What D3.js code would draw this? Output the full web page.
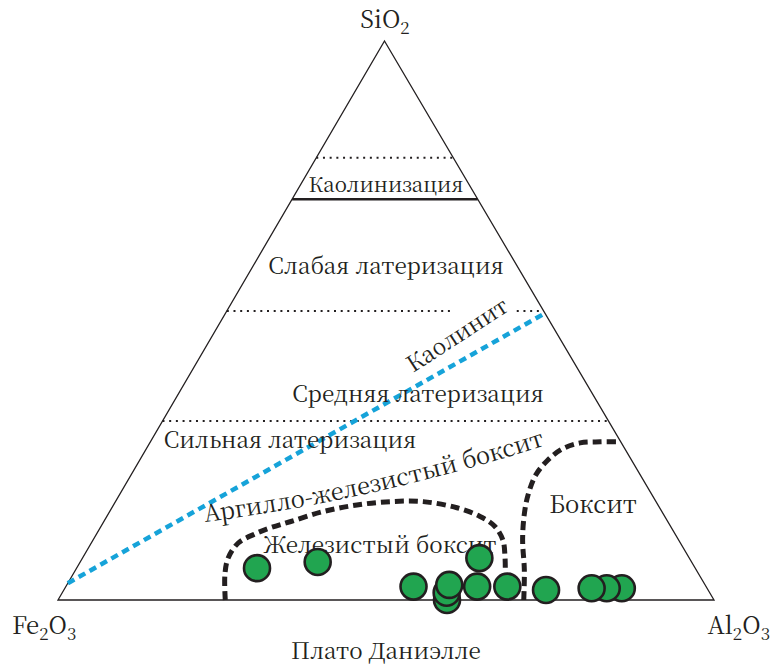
<!DOCTYPE html>
<html>
<head>
<meta charset="utf-8">
<script src="https://cdn.jsdelivr.net/npm/d3@7"></script>
<style>
  body { margin: 0; background: #fff; }
  svg { display: block; }
</style>
</head>
<body>
<svg id="chart" width="773" height="667"></svg>
<script>
// Sample compositions, % of SiO2 + Al2O3 + Fe2O3 (listed in drawing order)
const sampleSiO2  = [5.7, 6.8, 2.4, 0.0, 1.3, 2.7, 2.4, 7.5, 2.4, 1.8, 2.1, 2.1, 2.1];
const sampleAl2O3 = [27.5, 36.2, 53.0, 59.3, 58.6, 58.3, 62.7, 60.5, 67.3, 73.5, 84.9, 82.6, 80.3];
const sampleFe2O3 = sampleSiO2.map((s, i) => +(100 - s - sampleAl2O3[i]).toFixed(1));

// Laterisation grade boundaries, % SiO2
const levelSiO2   = [79.1, 71.7, 51.7, 32.0];
const levelSolid  = [false, true, false, false];

// Gap in the 51.7 % line left for the kaolinite label, % Al2O3
const levelGapAl2O3 = [34.5, 44.2];

// Kaolinite line, from Fe2O3 side to SiO2–Al2O3 side
const kaoliniteSiO2  = [3.0, 51.3];
const kaoliniteAl2O3 = [0.0, 48.7];

// Field of ferruginous bauxite (outline, % SiO2 and % Al2O3)
const ferrBauxiteSiO2  = [0, 4.5, 7.5, 10.2, 11.8, 12.9, 14.0, 15.8, 17.0, 17.6, 17.6, 16.5, 15.0, 13.2, 10.7, 7.9, 5.4];
const ferrBauxiteAl2O3 = [25.5, 23.2, 22.2, 22.4, 24.1, 25.9, 28.4, 32.5, 37.1, 41.9, 46.9, 52.6, 56.8, 60.0, 62.5, 64.2, 65.5];

// Field of bauxite
const bauxiteSiO2  = [0, 5.4, 10.7, 15.2, 18.8, 22.4, 25.0, 27.0, 28.1, 28.3, 28.3];
const bauxiteAl2O3 = [71.0, 68.4, 65.5, 63.5, 62.3, 61.7, 62.2, 63.4, 65.6, 68.6, 71.7];

const vertexLabels = [
  { base: "SiO", sub: "2", tail: "" },
  { base: "Fe", sub: "2", tail: "O", sub2: "3" },
  { base: "Al", sub: "2", tail: "O", sub2: "3" }
];
const title = "Плато Даниэлле";

const ink = "#231f20";
const serif = "'Noto Serif CJK SC', 'Liberation Serif', serif";
const svg = d3.select("#chart");

// Ternary projection: vertical position from SiO2, horizontal from Al2O3 plus shear
const yScale  = d3.scaleLinear().domain([0, 100]).range([600, 41]);
const alScale = d3.scaleLinear().domain([0, 100]).range([58, 714]);
const shear   = d3.scaleLinear().domain([0, 100]).range([0, 326.5]);
const project = (si, al) => [alScale(al) + shear(si), yScale(si)];

const line = d3.line();
const smooth = d3.line().curve(d3.curveCatmullRom.alpha(0.5));

// Triangle frame
svg.append("path")
  .attr("d", line([project(100, 0), project(0, 100), project(0, 0)]) + "Z")
  .attr("fill", "none").attr("stroke", ink).attr("stroke-width", 1.3);

// Grade boundary lines
levelSiO2.forEach((si, i) => {
  const maxAl = 100 - si;
  const segs = (si === 51.7)
    ? [[0, levelGapAl2O3[0]], [levelGapAl2O3[1], maxAl]]
    : [[0, maxAl]];
  segs.forEach(([a0, a1]) => {
    svg.append("path")
      .attr("d", line([project(si, a0), project(si, a1)]))
      .attr("fill", "none").attr("stroke", ink)
      .attr("stroke-width", levelSolid[i] ? 2.6 : 2)
      .attr("stroke-dasharray", levelSolid[i] ? null : "2,4.7");
  });
});

// Kaolinite line
svg.append("path")
  .attr("d", line(kaoliniteSiO2.map((s, i) => project(s, kaoliniteAl2O3[i]))))
  .attr("fill", "none").attr("stroke", "#16a3d9")
  .attr("stroke-width", 4.5).attr("stroke-dasharray", "7.5,5");

// Field outlines
[[ferrBauxiteSiO2, ferrBauxiteAl2O3], [bauxiteSiO2, bauxiteAl2O3]].forEach(([S, A]) => {
  svg.append("path")
    .attr("d", smooth(S.map((s, i) => project(s, A[i]))))
    .attr("fill", "none").attr("stroke", ink)
    .attr("stroke-width", 5).attr("stroke-dasharray", "9,5");
});

// Field labels
const labels = [
  { t: "Каолинизация", x: 386, y: 192, size: 20.5 },
  { t: "Слабая латеризация", x: 386, y: 274, size: 22.5 },
  { t: "Средняя латеризация", x: 418, y: 402, size: 22.5 },
  { t: "Сильная латеризация", x: 290, y: 448, size: 22.5 },
  { t: "Боксит", x: 593, y: 513, size: 24 },
  { t: "Железистый боксит", x: 380, y: 553, size: 22.5 }
];
svg.selectAll("text.field").data(labels).join("text")
  .attr("class", "field")
  .attr("x", d => d.x).attr("y", d => d.y)
  .attr("text-anchor", "middle")
  .attr("font-family", serif)
  .attr("fill", ink)
  .attr("font-size", d => d.size)
  .text(d => d.t);

svg.append("text")
  .attr("transform", "translate(413,373) rotate(-33)")
  .attr("font-family", serif)
  .attr("font-size", 22.5).attr("fill", ink)
  .text("Каолинит");

// Curved label above the ferruginous bauxite field
svg.append("path").attr("id", "argPath")
  .attr("d", "M205,522 Q378,500 562,440")
  .attr("fill", "none");
svg.append("text")
  .attr("font-family", serif)
  .attr("font-size", 23.5).attr("fill", ink)
  .append("textPath").attr("href", "#argPath")
  .text("Аргилло-железистый боксит");

// Samples
svg.selectAll("circle.sample")
  .data(sampleSiO2.map((s, i) => ({ si: s, al: sampleAl2O3[i], fe: sampleFe2O3[i] })))
  .join("circle")
  .attr("class", "sample")
  .attr("cx", d => project(d.si, d.al)[0])
  .attr("cy", d => project(d.si, d.al)[1])
  .attr("r", 13)
  .attr("fill", "#21a550").attr("stroke", ink).attr("stroke-width", 2.6);

// Vertex labels with subscripts
function oxide(x, y, lab, anchor) {
  const t = svg.append("text").attr("x", x).attr("y", y)
    .attr("font-family", serif)
    .attr("text-anchor", anchor).attr("font-size", 24).attr("fill", ink);
  t.append("tspan").text(lab.base);
  t.append("tspan").attr("dy", 6).attr("font-size", 17).text(lab.sub);
  if (lab.tail) {
    t.append("tspan").attr("dy", -6).text(lab.tail);
    t.append("tspan").attr("dy", 6).attr("font-size", 17).text(lab.sub2);
  }
}
oxide(385, 28, vertexLabels[0], "middle");
oxide(12, 634, vertexLabels[1], "start");
oxide(770, 634, vertexLabels[2], "end");

svg.append("text")
  .attr("x", 386).attr("y", 659)
  .attr("text-anchor", "middle")
  .attr("font-family", serif)
  .attr("font-size", 22.5).attr("fill", ink)
  .text(title);
</script>
</body>
</html>
